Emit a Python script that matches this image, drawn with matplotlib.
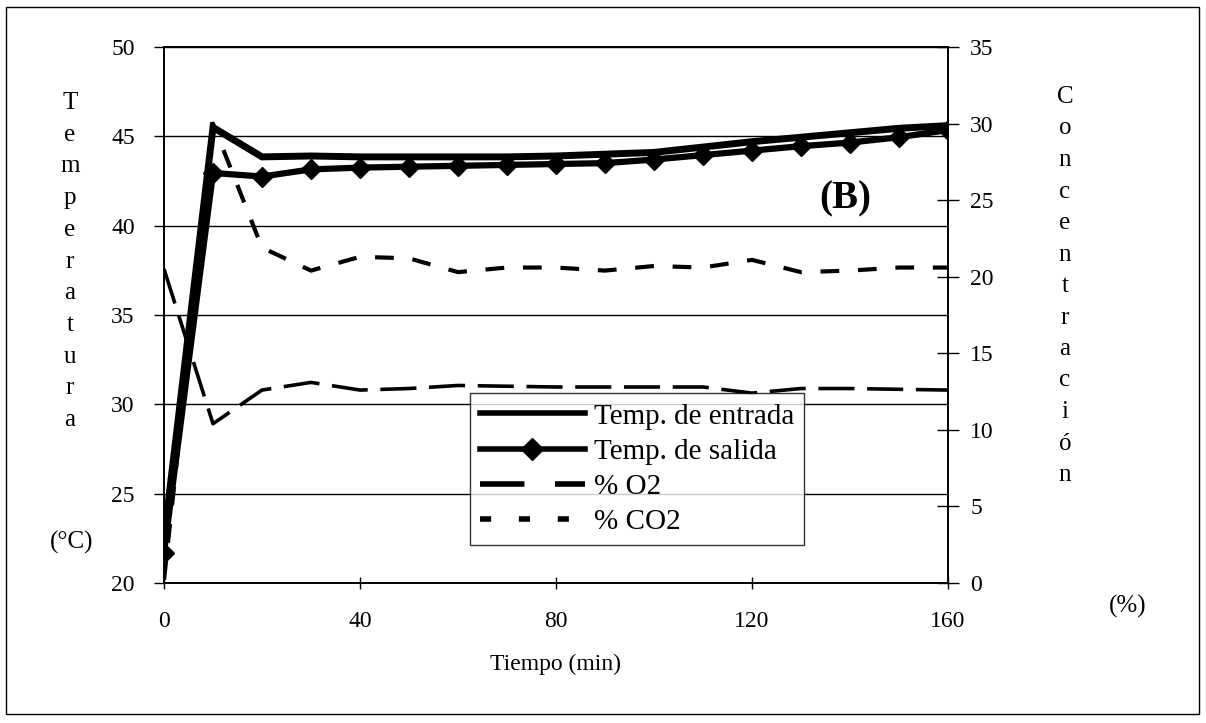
import numpy as np
import matplotlib.pyplot as plt
from matplotlib.lines import Line2D
from matplotlib.patches import Rectangle

plt.rcParams['font.family'] = ['Liberation Serif', 'DejaVu Serif']

# Data
tiempo = [0, 10, 20, 30, 40, 50, 60, 70, 80, 90, 100, 110, 120, 130, 140, 150, 160]
temp_entrada = [22.5, 45.5, 43.85, 43.9, 43.85, 43.85, 43.85, 43.85, 43.9, 44.0,
                44.1, 44.4, 44.7, 44.95, 45.2, 45.45, 45.6]
temp_salida = [21.7, 42.95, 42.75, 43.15, 43.25, 43.3, 43.35, 43.4, 43.45, 43.5,
               43.7, 43.95, 44.2, 44.45, 44.65, 44.95, 45.35]
o2 = [20.5, 10.4, 12.6, 13.1, 12.6, 12.7, 12.9, 12.85, 12.8, 12.8,
      12.8, 12.8, 12.4, 12.7, 12.7, 12.65, 12.6]
co2 = [0.2, 30.0, 21.9, 20.4, 21.3, 21.2, 20.3, 20.6, 20.6, 20.4,
       20.7, 20.6, 21.1, 20.3, 20.4, 20.6, 20.6]

W, H = 1206, 723
fig = plt.figure(figsize=(W / 100, H / 100), dpi=100)
ax = fig.add_axes([0.136, 0.1936, 0.650, 0.7414])
ax2 = ax.twinx()

# frame round the whole figure
fig.patches.append(Rectangle((0.005, 0.012), 0.989, 0.979, transform=fig.transFigure,
                             fill=False, edgecolor='black', linewidth=1.0))

ax.plot(tiempo, temp_entrada, color='black', linewidth=5, solid_joinstyle='miter', zorder=4)
ax.plot(tiempo, temp_salida, color='black', linewidth=4.5, marker='D', markersize=10, zorder=3)
ax2.plot(tiempo, o2, color='black', linewidth=2.6, dashes=(10, 3.5))
ax2.plot(tiempo, co2, color='black', linewidth=3, dashes=(4.5, 4.5))

ax.set_xlim(0, 160)
ax.set_ylim(20, 50)
ax2.set_ylim(0, 35)
ax.set_xticks([0, 40, 80, 120, 160])
ax.set_yticks(np.arange(20, 51, 5))
ax2.set_yticks(np.arange(0, 36, 5))
ax.yaxis.grid(True, color='black', linewidth=1.0)
ax.set_axisbelow(True)

for a in (ax, ax2):
    for s in a.spines.values():
        s.set_linewidth(1.2)
    a.tick_params(labelsize=17, width=1.0, colors='black')
ax.tick_params(axis='y', direction='out', length=7, pad=14)
ax.tick_params(axis='x', direction='inout', length=8, pad=16)
ax2.tick_params(axis='y', direction='inout', length=16, pad=8)

ax.set_xlabel('Tiempo (min)', fontsize=17, labelpad=16)

# vertical stacked-letter axis titles
for i, ch in enumerate('Temperatura'):
    fig.text(70 / W, 1 - (103 + i * 31.7) / H, ch, ha='center', va='center', fontsize=18)
fig.text(72 / W, 1 - 542 / H, '(°C)', ha='center', va='center', fontsize=18)
for i, ch in enumerate('Concentración'):
    fig.text(1065 / W, 1 - (97 + i * 31.5) / H, ch, ha='center', va='center', fontsize=18)
fig.text(1128 / W, 1 - 606 / H, '(%)', ha='center', va='center', fontsize=18)

ax.text(0.869, 0.717, '(B)', transform=ax.transAxes, ha='center', va='center',
        fontsize=28, fontweight='bold')

handles = [
    Line2D([], [], color='black', linewidth=4),
    Line2D([], [], color='black', linewidth=4, marker='D', markersize=11),
    Line2D([], [], color='black', linewidth=4, dashes=(8, 5.5)),
    Line2D([], [], color='black', linewidth=4, dashes=(2, 5)),
]
labels = ['Temp. de entrada', 'Temp. de salida', '% O2', '% CO2']
leg = ax2.legend(handles, labels, loc='upper left', bbox_to_anchor=(0.39, 0.3545),
                 fontsize=21, frameon=True, fancybox=False, handlelength=3.6,
                 handletextpad=0.3, borderpad=0.35, labelspacing=0.3, borderaxespad=0)
leg.get_frame().set_edgecolor('black')
leg.get_frame().set_linewidth(1.0)

fig.savefig('out.png', dpi=100)
